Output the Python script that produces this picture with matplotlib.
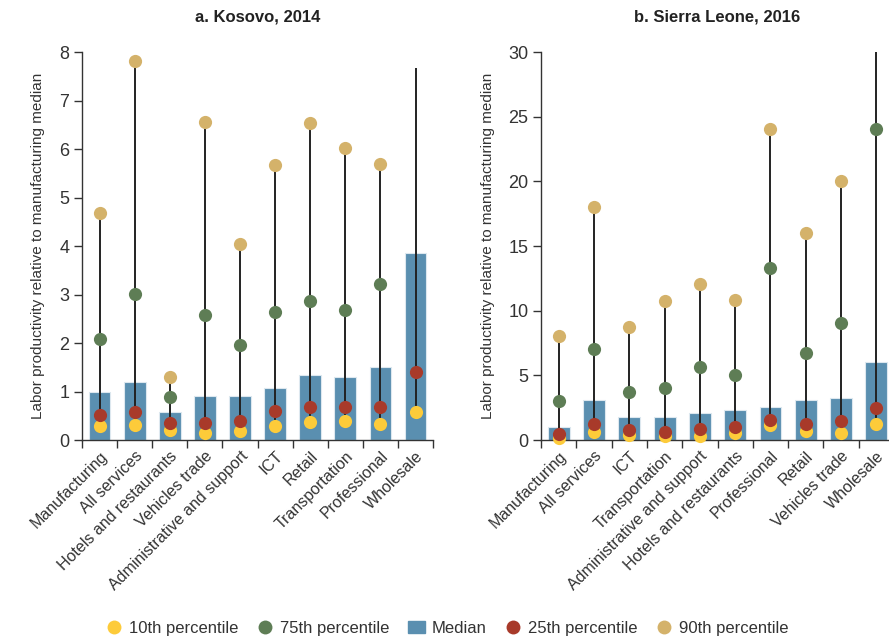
import numpy as np
import matplotlib
matplotlib.use("Agg")
import matplotlib.pyplot as plt
from matplotlib.lines import Line2D
from matplotlib.patches import Patch

plt.rcParams['font.family'] = ['Liberation Sans', 'DejaVu Sans']

nan = np.nan

# a. Kosovo, 2014
kos_sectors = ["Manufacturing", "All services", "Hotels and restaurants", "Vehicles trade",
               "Administrative and support", "ICT", "Retail", "Transportation",
               "Professional", "Wholesale"]
kos_median = [1.0, 1.2, 0.58, 0.9, 0.9, 1.08, 1.35, 1.3, 1.5, 3.85]
kos_p10 = [0.29, 0.30, 0.21, 0.15, 0.19, 0.29, 0.38, 0.40, 0.33, 0.58]
kos_p25 = [0.52, 0.58, 0.36, 0.36, 0.40, 0.60, 0.69, 0.69, 0.69, 1.41]
kos_p75 = [2.09, 3.02, 0.89, 2.58, 1.96, 2.65, 2.87, 2.68, 3.21, nan]
kos_p90 = [4.69, 7.81, 1.31, 6.55, 4.04, 5.67, 6.53, 6.02, 5.70, nan]
kos_line_top = [4.69, 7.81, 1.31, 6.55, 4.04, 5.67, 6.53, 6.02, 5.70, 7.68]

# b. Sierra Leone, 2016
sl_sectors = ["Manufacturing", "All services", "ICT", "Transportation",
              "Administrative and support", "Hotels and restaurants", "Professional",
              "Retail", "Vehicles trade", "Wholesale"]
sl_median = [1.0, 3.06, 1.8, 1.8, 2.06, 2.34, 2.55, 3.06, 3.27, 6.05]
sl_p10 = [0.18, 0.64, 0.39, 0.33, 0.33, 0.51, 1.13, 0.67, 0.54, 1.26]
sl_p25 = [0.50, 1.26, 0.77, 0.64, 0.85, 1.03, 1.57, 1.26, 1.47, 2.47]
sl_p75 = [3.0, 7.05, 3.73, 4.06, 5.63, 5.04, 13.27, 6.71, 9.06, 24.05]
sl_p90 = [8.05, 18.06, 8.72, 10.73, 12.07, 10.83, 24.05, 16.05, 20.07, nan]
sl_line_top = [8.05, 18.06, 8.72, 10.73, 12.07, 10.83, 24.05, 16.05, 20.07, 30.0]

c_bar = "#5a8fb0"
c_p10 = "#fdcb3a"
c_p75 = "#5e7d55"
c_p25 = "#a83a2a"
c_p90 = "#d4b26a"
c_axis = "#333333"

fig = plt.figure(figsize=(8.89, 6.39), dpi=100)
ax1 = fig.add_axes([0.0922, 0.3114, 0.395, 0.607])
ax2 = fig.add_axes([0.6086, 0.3114, 0.397, 0.607])


def draw_panel(ax, title, sectors, median, p10, p25, p75, p90, top, ymax, yticks):
    x = np.arange(len(sectors))
    ax.bar(x, median, width=0.62, color=c_bar, edgecolor="#dde8ef", linewidth=0.8, zorder=1)
    ax.vlines(x, p10, top, color="#222222", linewidth=1.4, zorder=2)
    ms = 9.5
    ax.plot(x, p90, "o", color=c_p90, ms=ms, mec="none", zorder=3, clip_on=False)
    ax.plot(x, p75, "o", color=c_p75, ms=ms, mec="none", zorder=3, clip_on=False)
    ax.plot(x, p10, "o", color=c_p10, ms=ms, mec="none", zorder=4, clip_on=False)
    ax.plot(x, p25, "o", color=c_p25, ms=ms, mec="none", zorder=5, clip_on=False)

    ax.set_xlim(-0.5, len(sectors) - 0.5)
    ax.set_ylim(0, ymax)
    ax.set_yticks(yticks)
    ax.set_xticks(np.arange(len(sectors) + 1) - 0.5)
    ax.set_xticklabels([])
    ax.set_xticks(x, minor=True)
    ax.set_xticklabels(sectors, minor=True, rotation=45, ha="right",
                       rotation_mode="anchor", fontsize=11.5, color=c_axis)
    ax.tick_params(axis="x", which="minor", length=0, pad=6)
    ax.tick_params(axis="x", which="major", length=6, width=1, color=c_axis)
    ax.tick_params(axis="y", length=6, width=1, color=c_axis, labelsize=13,
                   labelcolor=c_axis, pad=3)
    for s in ["top", "right"]:
        ax.spines[s].set_visible(False)
    for s in ["left", "bottom"]:
        ax.spines[s].set_color(c_axis)
        ax.spines[s].set_linewidth(1)
    ax.set_ylabel("Labor productivity relative to manufacturing median",
                  fontsize=11, color=c_axis, labelpad=10)
    ax.set_title(title, fontsize=12, fontweight="bold", color="#222222", pad=22)


draw_panel(ax1, "a. Kosovo, 2014", kos_sectors, kos_median, kos_p10, kos_p25,
           kos_p75, kos_p90, kos_line_top, 8, range(0, 9))
draw_panel(ax2, "b. Sierra Leone, 2016", sl_sectors, sl_median, sl_p10, sl_p25,
           sl_p75, sl_p90, sl_line_top, 30, range(0, 31, 5))

handles = [
    Line2D([], [], marker="o", ls="none", color=c_p10, ms=10, mec="none"),
    Line2D([], [], marker="o", ls="none", color=c_p75, ms=10, mec="none"),
    Patch(color=c_bar),
    Line2D([], [], marker="o", ls="none", color=c_p25, ms=10, mec="none"),
    Line2D([], [], marker="o", ls="none", color=c_p90, ms=10, mec="none"),
]
labels = ["10th percentile", "75th percentile", "Median", "25th percentile", "90th percentile"]
fig.legend(handles, labels, loc="center", bbox_to_anchor=(0.503, 0.017), ncol=5,
           frameon=False, fontsize=12, handlelength=1.0, handletextpad=0.4,
           columnspacing=1.1, labelcolor=c_axis)

fig.savefig("out.png", dpi=100)
